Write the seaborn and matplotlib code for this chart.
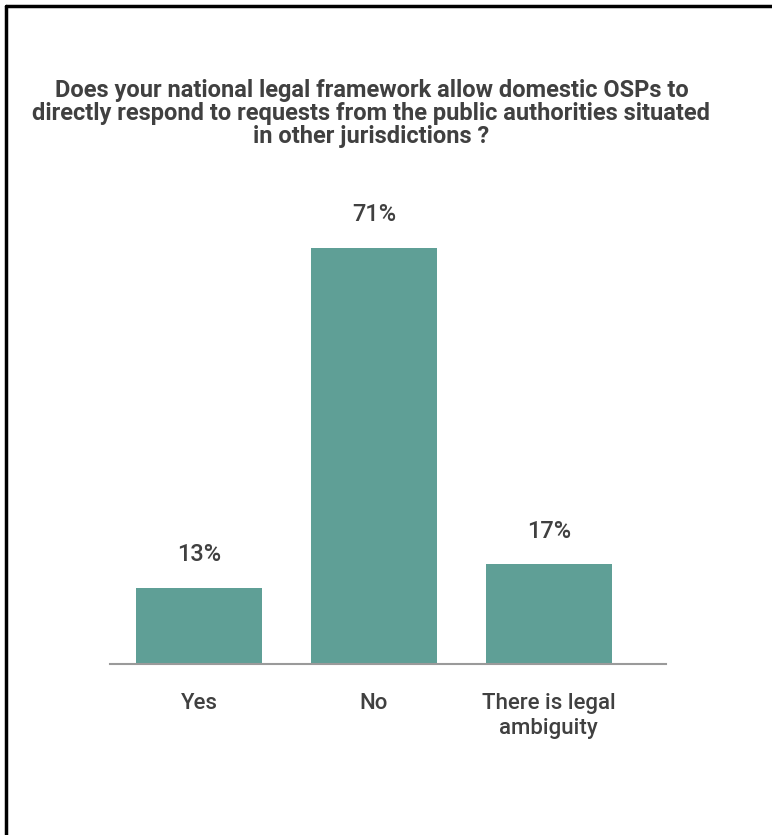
import matplotlib
matplotlib.use("Agg")
import matplotlib.pyplot as plt
import seaborn as sns
import pandas as pd
from matplotlib.lines import Line2D

# Survey answers and their shares (%)
categories = ["Yes", "No", "There is legal\nambiguity"]
shares = [13, 71, 17]
value_labels = ["13%", "71%", "17%"]
title = ("Does your national legal framework allow domestic OSPs to\n"
         "directly respond to requests from the public authorities situated\n"
         "in other jurisdictions ?")

sns.set_theme(style="white")
plt.rcParams["font.family"] = ["Roboto", "DejaVu Sans"]

bar_color = "#5f9f96"
text_color = "#404040"

W, H = 772, 835
fig = plt.figure(figsize=(W / 100, H / 100), dpi=100)
fig.patch.set_facecolor("white")

# axes frame in pixel terms: baseline at y=664, from x=110 to x=666
left, right = 110, 666
base, top = 664, 200
ax = fig.add_axes([left / W, 1 - base / H, (right - left) / W, (base - top) / H])

df = pd.DataFrame({"answer": categories, "share": shares})
sns.barplot(data=df, x="answer", y="share", color=bar_color, saturation=1,
            width=0.72, ax=ax, edgecolor=bar_color, linewidth=0)

ax.set_xlim(-0.51, 2.67)
ax.set_ylim(0, (base - top) / (416 / 71))

for i, (v, lab) in enumerate(zip(shares, value_labels)):
    ax.annotate(lab, (i, v), xytext=(0, 24), textcoords="offset points",
                ha="center", va="center", fontsize=17, color=text_color,
                fontweight="medium")

for s in ["top", "right", "left"]:
    ax.spines[s].set_visible(False)
ax.spines["bottom"].set_color("#9a9a9a")
ax.spines["bottom"].set_linewidth(1.5)
ax.set_yticks([])
ax.set_xlabel("")
ax.set_ylabel("")
ax.tick_params(axis="x", length=0, pad=21, labelsize=16, labelcolor=text_color)
for t in ax.get_xticklabels():
    t.set_fontweight("medium")
    t.set_linespacing(1.25)
    t.set_va("top")

fig.text(371.5 / W, 1 - 79 / H, title, ha="center", va="top",
         fontsize=17, fontweight="bold", color=text_color, linespacing=1.0)

# border lines along the top and left edges
fig.add_artist(Line2D([6 / W, 1], [1 - 6 / H, 1 - 6 / H], color="black",
                      linewidth=2.5, transform=fig.transFigure))
fig.add_artist(Line2D([6 / W, 6 / W], [0, 1 - 6 / H], color="black",
                      linewidth=2.5, transform=fig.transFigure))

fig.savefig("out.png", dpi=100, facecolor="white")
